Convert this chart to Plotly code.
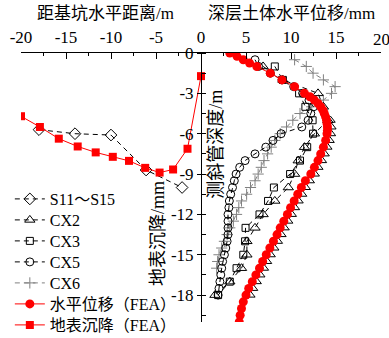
import plotly.graph_objects as go

# ---------------- data ----------------
# surface settlement: distance from pit edge (m) vs settlement (mm)
s_meas_x = [-18, -14, -10, -6.1, -2.1]
s_meas_y = [-5.7, -6.0, -6.1, -8.7, -10.0]

s_fea_x = [-20.0, -17.9, -15.8, -13.7, -11.7, -9.8, -8.0, -6.2, -4.6, -3.1, -1.5, 0.0]
s_fea_y = [-4.7, -5.5, -6.37, -6.95, -7.39, -7.72, -8.02, -8.54, -8.89, -8.66, -7.12, -1.72]

# deep horizontal displacement (mm) vs inclinometer depth (m)
cx2_depth = [-1, -2, -3, -4, -5, -6, -7, -8, -9, -10, -11, -12, -13, -14, -15, -16, -17, -18]
cx2_disp = [6.9, 9.1, 13.0, 13.6, 14.1, 12.6, 11.5, 10.8, 10.4, 9.7, 8.2, 6.9, 6.0, 5.1, 5.1, 4.5, 3.2, 1.55]

cx3_depth = [-1, -2, -3, -4, -5, -6, -7, -8, -9, -10, -11, -12, -13, -14, -15, -16, -17, -18]
cx3_disp = [8.2, 9.1, 10.9, 11.6, 12.4, 12.45, 11.8, 11.0, 9.9, 8.1, 7.45, 6.5, 4.95, 4.9, 4.7, 3.95, 3.2, 1.9]

cx5_depth = [-0.5, -1, -1.5, -2, -2.5, -3, -3.5, -4, -4.5, -5, -5.5, -6, -6.5, -7, -7.5,
             -8, -8.5, -9, -9.5, -10, -10.5, -11, -11.5, -12, -12.5, -13, -13.5, -14,
             -14.5, -15, -15.5, -16, -16.5, -17, -17.5, -18]
cx5_disp = [6.0, 6.4, 7.7, 9.0, 10.3, 11.3, 12.0, 12.5, 12.2, 11.9, 11.2, 8.9, 8.0, 7.2, 6.0,
            4.9, 4.3, 3.9, 3.7, 3.5, 3.3, 3.15, 3.1, 3.0, 3.0, 3.0, 3.0, 2.9,
            2.75, 2.6, 2.4, 2.3, 2.2, 2.1, 2.0, 1.9]

cx6_depth = [-0.5, -1, -1.5, -2, -2.5, -3, -3.5, -4, -4.5, -5, -5.5, -6, -6.5, -7, -7.5,
             -8, -8.5, -9, -9.5, -10, -10.5, -11, -11.5, -12, -12.5, -13, -13.5, -14,
             -14.5, -15, -15.5, -16]
cx6_disp = [10.4, 11.7, 12.45, 13.6, 14.9, 14.5, 13.6, 12.3, 11.0, 10.2, 9.5, 8.8, 8.2, 7.8, 7.4,
            7.0, 6.7, 6.35, 6.0, 5.5, 5.07, 4.5, 4.2, 3.95, 3.6, 3.2, 2.9, 2.6,
            2.3, 2.0, 1.85, 1.74]

fea_depth = [0, -0.25, -0.5, -0.75, -1.0, -1.5, -2.0, -2.5, -3.0, -3.25, -3.5, -3.75, -4.0,
             -4.25, -4.5, -4.75, -5.0, -5.25, -5.5, -5.75, -6.0, -6.5, -7.0, -7.5, -8.0,
             -8.5, -9.0, -9.5, -10.0, -10.5, -11.0, -11.5, -12.0, -12.5, -13.0, -13.5,
             -14.0, -14.5, -15.0, -15.5, -16.0, -16.5, -17.0, -17.5, -18.0, -18.5, -19.0,
             -19.5, -20.0]
fea_disp = [3.2, 4.0, 4.7, 5.4, 6.2, 7.7, 9.0, 10.4, 11.5, 12.1, 12.6, 13.0, 13.3,
            13.55, 13.7, 13.85, 13.95, 14.0, 14.05, 14.05, 14.0, 13.85, 13.6, 13.3, 13.0,
            12.6, 12.2, 11.6, 11.15, 10.75, 10.35, 9.95, 9.6, 9.2, 8.8, 8.45,
            8.05, 7.65, 7.25, 6.85, 6.5, 6.1, 5.7, 5.3, 5.0, 4.7, 4.5,
            4.35, 4.25]

# companion computed profile drawn beneath the FEA circles
fea2_depth = [-5, -5.5, -6, -6.5, -7, -7.5, -8, -8.5, -9, -9.5, -10, -10.5, -11, -11.5,
              -12, -12.5, -13, -13.5, -14, -14.5, -15, -15.5, -16, -16.5, -17, -17.5, -18]
fea2_disp = [14.4, 14.5, 14.45, 14.3, 14.05, 13.75, 13.45, 13.05, 12.65, 12.1, 11.65, 11.25,
             10.85, 10.45, 10.1, 9.7, 9.3, 8.95, 8.55, 8.15, 7.75, 7.35, 7.0, 6.6, 6.2, 5.8, 5.5]

TICKS_Y = [0, -3, -6, -9, -12, -15, -18]
TICKS_X = [-20, -15, -10, -5, 0, 5, 10, 15, 20]

FONT = "Times New Roman, Liberation Serif, Noto Sans CJK SC, serif"
DASH = "5px,4px"

# plot-area geometry (px) and legend row layout
M_L, M_R, M_T, M_B = 21, 8, 53, 16
PLOT_H = 338 - M_T - M_B
LEG_FIRST_ROW, LEG_ROW_GAP = 199, 21


def leg_id(i):
    return "legend" if i == 0 else f"legend{i + 1}"


fig = go.Figure()


def meas(x, y, name, symbol, size, row, color="black"):
    fig.add_trace(go.Scatter(
        x=x, y=y, name=name, mode="lines+markers", legend=leg_id(row),
        line=dict(color=color, width=1, dash=DASH),
        marker=dict(symbol=symbol, size=size, color=color,
                    line=dict(color=color, width=1)),
    ))


meas(s_meas_x, s_meas_y, "S11～S15", "diamond-open", 9, 0)
meas(cx6_disp, cx6_depth, "CX6", "cross-thin-open", 8, 4, color="#808080")
meas(cx5_disp, cx5_depth, "CX5", "circle-open", 8, 3)
meas(cx3_disp, cx3_depth, "CX3", "square-open", 7, 2)
meas(cx2_disp, cx2_depth, "CX2", "triangle-up-open", 9, 1)

fig.add_trace(go.Scatter(
    x=fea2_disp, y=fea2_depth, mode="markers", showlegend=False, name="FEA-2",
    marker=dict(symbol="triangle-up-open", size=8, color="black", line=dict(width=1)),
))

fig.add_trace(go.Scatter(
    x=fea_disp, y=fea_depth, name="水平位移（FEA）", mode="lines+markers",
    legend=leg_id(5), line=dict(color="red", width=1),
    marker=dict(symbol="circle", size=9, color="red"),
))
fig.add_trace(go.Scatter(
    x=s_fea_x, y=s_fea_y, name="地表沉降（FEA）", mode="lines+markers",
    legend=leg_id(6), line=dict(color="red", width=1),
    marker=dict(symbol="square", size=8, color="red"),
))

# invisible trace that activates the overlaid axis (right-hand tick marks)
fig.add_trace(go.Scatter(x=[None], y=[None], yaxis="y2", showlegend=False, hoverinfo="skip"))

# the end labels ("20" on x, "0" on y) are written as annotations below
xt_text = [str(v) if v != 20 else "" for v in TICKS_X]
yt_text = [str(v) if v != 0 else "" for v in TICKS_Y]

fig.update_layout(
    width=389, height=338,
    margin=dict(l=M_L, r=M_R, t=M_T, b=M_B, autoexpand=False),
    paper_bgcolor="white", plot_bgcolor="white",
    font=dict(family=FONT, size=17, color="black"),
    xaxis=dict(
        range=[-20, 20], side="top", showgrid=False, zeroline=False,
        showline=True, linecolor="black", linewidth=1,
        tickmode="array", tickvals=TICKS_X, ticktext=xt_text,
        ticks="inside", ticklen=6, tickcolor="black",
        minor=dict(dtick=2.5, tick0=0, ticks="inside", ticklen=3, tickcolor="black"),
        tickfont=dict(size=17), ticklabelstandoff=2, automargin=False,
    ),
    yaxis=dict(
        range=[-20, 0], anchor="free", position=0.5, showgrid=False, zeroline=False,
        showline=True, linecolor="black", linewidth=1,
        tickmode="array", tickvals=TICKS_Y, ticktext=yt_text,
        ticks="outside", ticklen=4, tickcolor="black",
        minor=dict(dtick=1.5, tick0=0, ticks="inside", ticklen=4, tickcolor="black"),
        tickfont=dict(size=17), automargin=False,
    ),
    yaxis2=dict(
        range=[-20, 0], overlaying="y", anchor="free", position=0.5,
        showgrid=False, zeroline=False, showline=False,
        tickmode="array", tickvals=TICKS_Y,
        ticks="inside", ticklen=4, tickcolor="black", showticklabels=False,
    ),
    showlegend=True,
)

# one single-entry legend per row, so the row pitch can be set freely
for i in range(7):
    row_px = LEG_FIRST_ROW + i * LEG_ROW_GAP
    fig.update_layout({leg_id(i): dict(
        x=-0.031, xanchor="left", y=1 - (row_px - M_T) / PLOT_H, yanchor="middle",
        bgcolor="rgba(0,0,0,0)", font=dict(size=16), itemwidth=30, borderwidth=0,
    )})

fig.update_layout(annotations=[
    dict(text="距基坑水平距离/m", x=-10.6, xref="x", y=1, yref="paper",
         yanchor="middle", yshift=40, showarrow=False, font=dict(size=17)),
    dict(text="深层土体水平位移/mm", x=10.0, xref="x", y=1, yref="paper",
         yanchor="middle", yshift=40, showarrow=False, font=dict(size=17)),
    dict(text="测斜管深度/m", x=1.7, xref="x", y=-6.8, yref="y",
         textangle=-90, showarrow=False, font=dict(size=18)),
    dict(text="地表沉降/mm", x=-4.8, xref="x", y=-13.4, yref="y",
         textangle=-90, showarrow=False, font=dict(size=18)),
    dict(text="20", x=20, xref="x", y=1, yref="paper", xanchor="center",
         yanchor="middle", yshift=14, showarrow=False, font=dict(size=17)),
    dict(text="0", x=0, xref="x", y=0, yref="y", xanchor="right",
         yanchor="middle", xshift=-5, showarrow=False, font=dict(size=17)),
])

fig.write_html("out.html")
